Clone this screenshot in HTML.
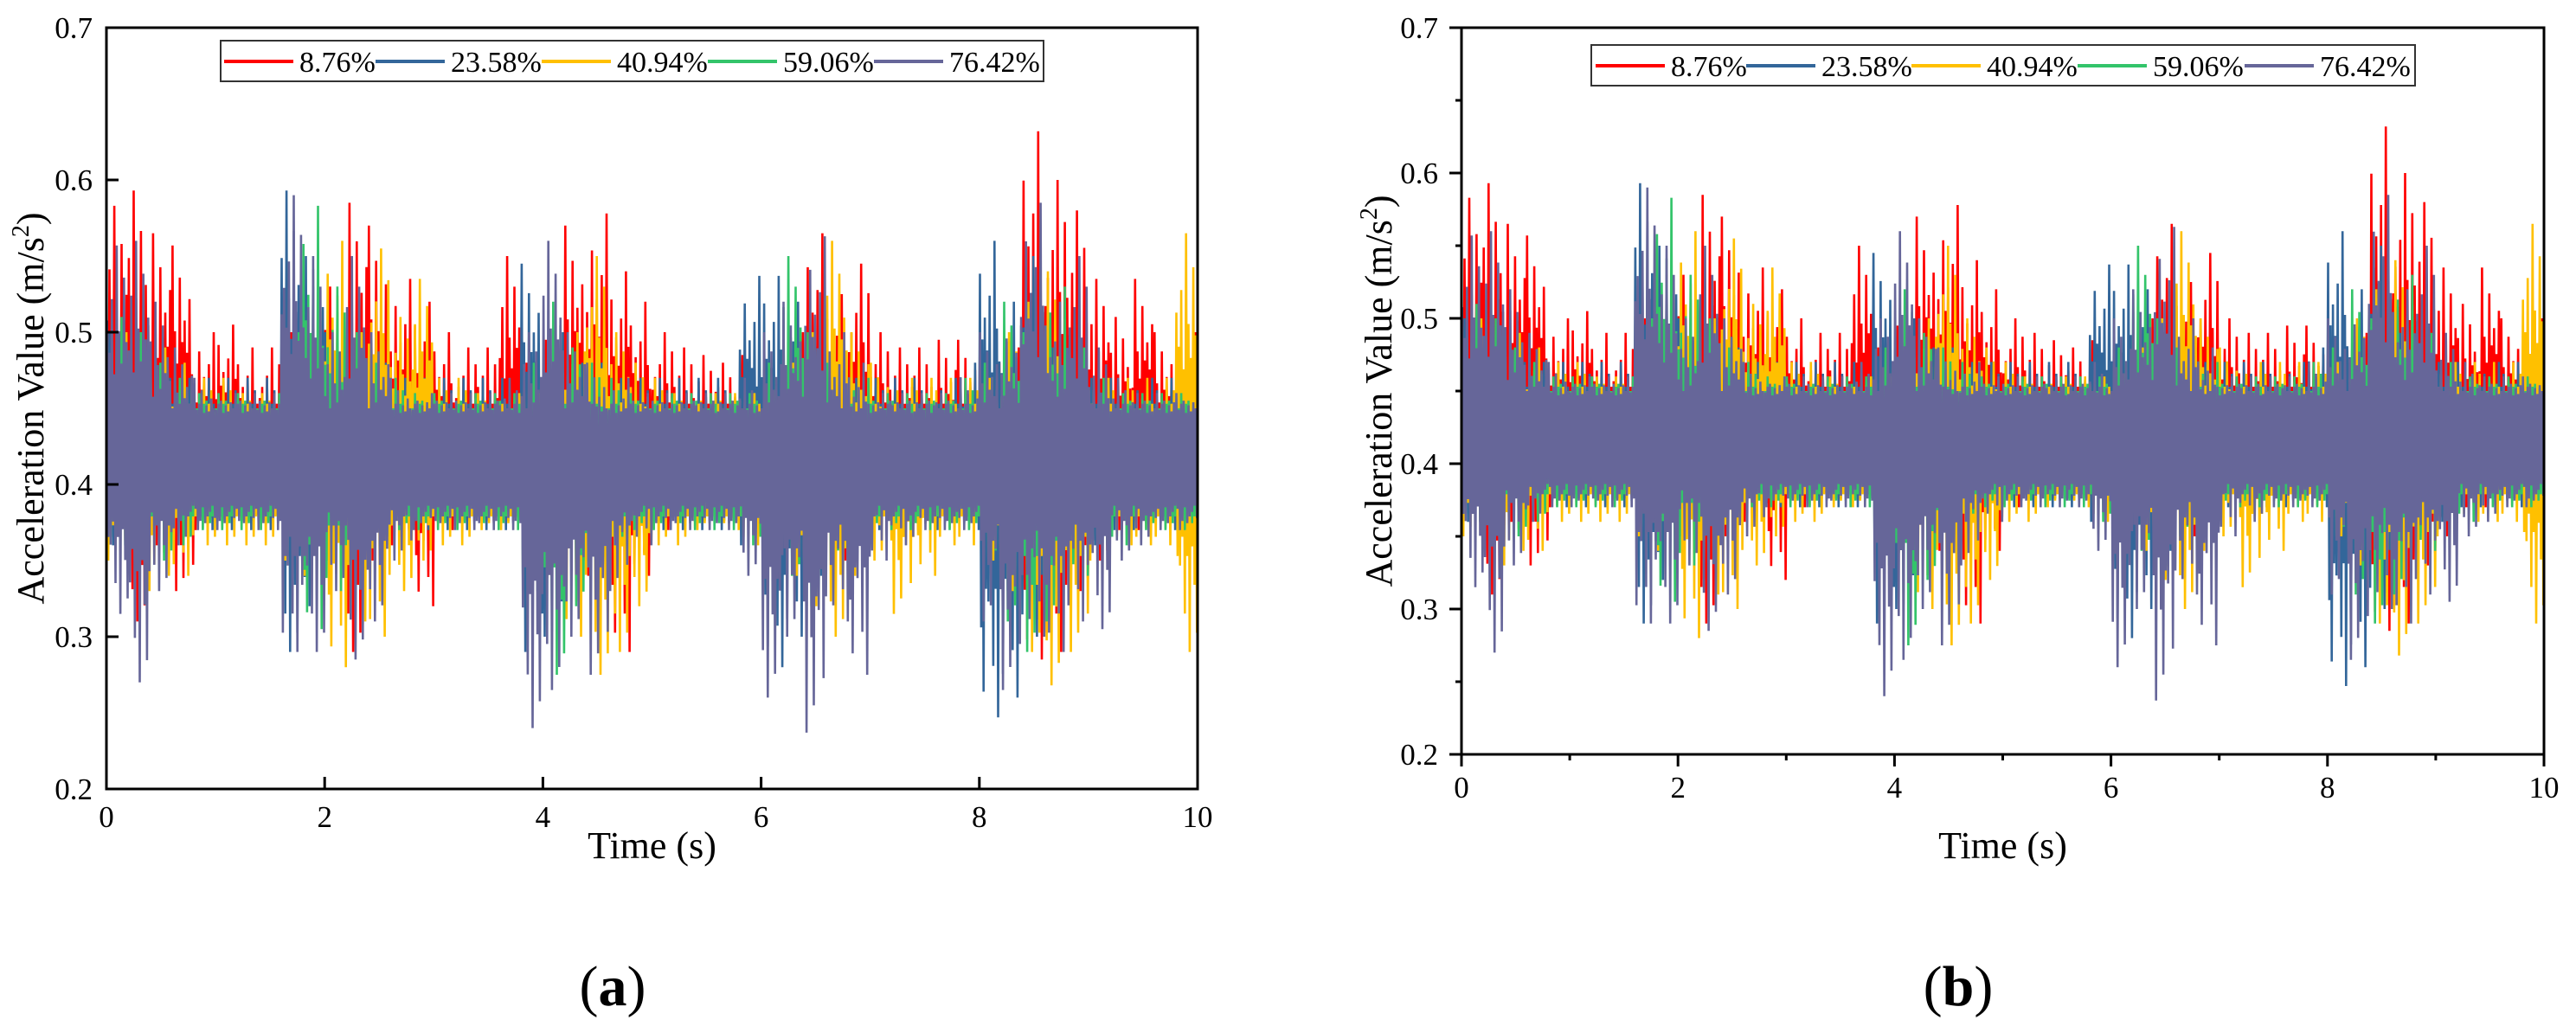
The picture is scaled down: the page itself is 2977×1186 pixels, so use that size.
<!DOCTYPE html>
<html><head><meta charset="utf-8"><style>
body{margin:0;background:#fff;}
svg{display:block;font-family:"Liberation Serif",serif;}
</style></head><body>
<svg id="fig" width="2977" height="1186" viewBox="0 0 2977 1186" xmlns="http://www.w3.org/2000/svg"></svg>
<script>
// ---- data (envelope peaks per 0.2 s window) ----
const seriesNames = ["8.76%","23.58%","40.94%","59.06%","76.42%"];
const seriesColors = ["#ff0000","#33669a","#ffc000","#33c46a","#666699"];
const xTicks = [0,2,4,6,8,10];
const yTicks = [0.2,0.3,0.4,0.5,0.6,0.7];
const xTickLabels = ["0","2","4","6","8","10"];
const yTickLabels = ["0.2","0.3","0.4","0.5","0.6","0.7"];
const centerValue = 0.416;
const redUpper = [0.583,0.593,0.565,0.557,0.50,0.505,0.49,0.49,0.50,0.49,0.53,0.585,0.57,0.535,0.52,0.50,0.49,0.49,0.55,0.48,0.495,0.57,0.578,0.54,0.52,0.50,0.49,0.485,0.48,0.485,0.46,0.50,0.565,0.525,0.545,0.50,0.49,0.49,0.495,0.495,0.48,0.49,0.632,0.60,0.58,0.535,0.51,0.535,0.50,0.50];
const redLower = [0.37,0.31,0.36,0.33,0.37,0.38,0.38,0.38,0.37,0.37,0.36,0.29,0.35,0.36,0.32,0.37,0.38,0.38,0.38,0.37,0.37,0.36,0.34,0.29,0.34,0.37,0.38,0.38,0.38,0.38,0.37,0.36,0.34,0.35,0.37,0.38,0.37,0.38,0.38,0.38,0.37,0.36,0.285,0.29,0.33,0.35,0.37,0.37,0.38,0.37];
const blueUpper = [0.50,0.48,0.47,0.47,0.47,0.47,0.47,0.47,0.593,0.55,0.50,0.48,0.48,0.47,0.47,0.47,0.47,0.47,0.47,0.545,0.50,0.48,0.48,0.47,0.47,0.47,0.47,0.47,0.47,0.537,0.537,0.52,0.48,0.47,0.47,0.47,0.47,0.47,0.47,0.48,0.56,0.52,0.55,0.49,0.48,0.47,0.47,0.47,0.47,0.47];
const blueLower = [0.36,0.36,0.37,0.37,0.37,0.37,0.37,0.37,0.29,0.32,0.35,0.35,0.36,0.37,0.37,0.37,0.37,0.37,0.37,0.29,0.30,0.35,0.36,0.37,0.37,0.37,0.37,0.37,0.37,0.36,0.28,0.30,0.34,0.36,0.37,0.37,0.37,0.37,0.37,0.37,0.247,0.26,0.30,0.34,0.35,0.36,0.37,0.37,0.37,0.37];
const yellowUpper = [0.50,0.48,0.49,0.48,0.47,0.47,0.46,0.46,0.47,0.48,0.56,0.50,0.555,0.51,0.535,0.47,0.47,0.46,0.46,0.46,0.48,0.50,0.55,0.50,0.48,0.47,0.46,0.46,0.46,0.46,0.46,0.48,0.50,0.56,0.50,0.48,0.47,0.47,0.47,0.47,0.47,0.50,0.52,0.54,0.48,0.47,0.47,0.47,0.47,0.565];
const yellowLower = [0.35,0.33,0.34,0.34,0.36,0.36,0.36,0.36,0.35,0.34,0.28,0.31,0.30,0.33,0.35,0.36,0.36,0.37,0.37,0.35,0.33,0.30,0.275,0.29,0.32,0.36,0.36,0.37,0.37,0.36,0.35,0.34,0.32,0.30,0.34,0.35,0.315,0.34,0.36,0.36,0.35,0.33,0.29,0.268,0.29,0.35,0.36,0.36,0.36,0.29];
const greenUpper = [0.51,0.50,0.48,0.47,0.46,0.46,0.46,0.46,0.50,0.583,0.53,0.50,0.48,0.47,0.46,0.46,0.46,0.46,0.46,0.48,0.52,0.49,0.48,0.47,0.46,0.46,0.46,0.46,0.46,0.46,0.48,0.55,0.50,0.48,0.47,0.46,0.46,0.46,0.46,0.47,0.48,0.52,0.50,0.53,0.49,0.47,0.46,0.46,0.46,0.46];
const greenLower = [0.36,0.35,0.35,0.36,0.37,0.37,0.37,0.37,0.35,0.305,0.33,0.35,0.36,0.37,0.37,0.37,0.37,0.37,0.37,0.33,0.275,0.32,0.34,0.36,0.37,0.37,0.37,0.37,0.37,0.36,0.35,0.34,0.32,0.35,0.36,0.37,0.37,0.37,0.37,0.37,0.35,0.31,0.29,0.31,0.34,0.36,0.36,0.37,0.37,0.37];
const purpleUpper = [0.557,0.56,0.52,0.49,0.47,0.46,0.46,0.46,0.59,0.55,0.50,0.55,0.50,0.47,0.46,0.46,0.46,0.46,0.47,0.50,0.56,0.50,0.48,0.47,0.46,0.46,0.46,0.46,0.46,0.47,0.50,0.52,0.563,0.50,0.48,0.46,0.46,0.46,0.46,0.47,0.50,0.51,0.585,0.52,0.55,0.49,0.47,0.46,0.46,0.46];
const purpleLower = [0.315,0.27,0.33,0.36,0.37,0.37,0.37,0.37,0.29,0.29,0.33,0.285,0.31,0.35,0.37,0.37,0.37,0.37,0.37,0.24,0.265,0.30,0.275,0.33,0.36,0.37,0.37,0.37,0.37,0.34,0.26,0.30,0.237,0.31,0.275,0.35,0.36,0.37,0.37,0.37,0.31,0.265,0.30,0.29,0.31,0.305,0.35,0.36,0.37,0.37];
const uppers = [redUpper,blueUpper,yellowUpper,greenUpper,purpleUpper];
const lowers = [redLower,blueLower,yellowLower,greenLower,purpleLower];

const NS="http://www.w3.org/2000/svg";
const svg=document.getElementById('fig');
function mk(tag,attrs,parent){const e=document.createElementNS(NS,tag);for(const k in attrs)e.setAttribute(k,attrs[k]);(parent||svg).appendChild(e);return e;}
const upPat=[0.5,0.75,0.4,1,0.6,0.45,0.85,0.55,0.65];
const dnPat=[0.55,0.4,0.8,0.5,1,0.45,0.65,0.9,0.5];
const coreUp=[0.032,0.038,0.034,0.040,0.033,0.037,0.039,0.031,0.036];
const coreDn=[0.034,0.030,0.038,0.032,0.036,0.040,0.031,0.035,0.037];

function panel(cfg){
  const g=mk('g',{});
  
  
  const L=cfg.L,R=cfg.R,T=cfg.T,B=cfg.B;
  const xs=v=>L+(v-0)/(10-0)*(R-L);
  const ys=v=>B-(v-0.2)/(0.7-0.2)*(B-T);
  const clipId='clip'+cfg.id;
  const defs=mk('defs',{},g);
  const cp=mk('clipPath',{id:clipId},defs);
  mk('rect',{x:L,y:T,width:R-L,height:B-T},cp);
  const sg=mk('g',{'clip-path':'url(#'+clipId+')'},g);
  const K=18, W=uppers[0].length;
  for(let s=0;s<uppers.length;s++){
    const U=uppers[s],Lo=lowers[s];
    let d='';
    for(let i=0;i<W;i++){
      for(let k=0;k<K;k++){
        const t=(i+(k+0.5)/K)*(10/W);
        const j=(Math.floor(k/2)+s*2+i)%9;
        let v;
        if(k%2===0) v=centerValue+Math.max(coreUp[j],(U[i]-centerValue)*upPat[j]);
        else v=centerValue-Math.max(coreDn[j],(centerValue-Lo[i])*dnPat[j]);
        d+=(d?'L':'M')+xs(t).toFixed(1)+','+ys(v).toFixed(1);
      }
    }
    const p=mk('path',{d:d,fill:'none',stroke:seriesColors[s],'stroke-width':2.6,'stroke-linejoin':'miter','stroke-miterlimit':2},sg);
    
    
  }
  const fr=mk('rect',{x:L,y:T,width:R-L,height:B-T,fill:'none',stroke:'#000','stroke-width':3},g);
  
  
  const tk=cfg.inward?1:-1;
  for(let i=0;i<xTicks.length;i++){
    const x=xs(xTicks[i]);
    mk('line',{x1:x,y1:B,x2:x,y2:B-tk*14,stroke:'#000','stroke-width':3},g);
    const t=mk('text',{x:x,y:B+cfg.xLabOff,'font-size':35,'text-anchor':'middle'},g);
    t.textContent=xTickLabels[i];
    
    
    if(!cfg.inward && i<xTicks.length-1){const xm=xs(xTicks[i]+1);mk('line',{x1:xm,y1:B,x2:xm,y2:B+7,stroke:'#000','stroke-width':3},g);}
  }
  for(let i=0;i<yTicks.length;i++){
    const y=ys(yTicks[i]);
    mk('line',{x1:L,y1:y,x2:L+tk*14,y2:y,stroke:'#000','stroke-width':3},g);
    const t=mk('text',{x:cfg.yLabX,y:y+12,'font-size':35,'text-anchor':'end'},g);
    t.textContent=yTickLabels[i];
    
    
    if(!cfg.inward && i<yTicks.length-1){const ym=ys(yTicks[i]+0.05);mk('line',{x1:L,y1:ym,x2:L-7,y2:ym,stroke:'#000','stroke-width':3},g);}
  }
  const xt=mk('text',{x:(L+R)/2,y:992,'font-size':44,'text-anchor':'middle'},g);
  xt.textContent='Time (s)';
  
  
  const yt=mk('text',{x:0,y:0,'font-size':44,'text-anchor':'middle',transform:'translate('+cfg.yTitleX+','+((T+B)/2)+') rotate(-90)'},g);
  yt.innerHTML='Acceleration Value (m/s<tspan font-size="28" dy="-17">2</tspan><tspan dy="17">)</tspan>';
  
  
  const lg=mk('g',{},g);
  
  
  mk('rect',{x:cfg.legL,y:cfg.legT,width:cfg.legR-cfg.legL,height:47,fill:'#fff',stroke:'#333','stroke-width':2},lg);
  const ly=cfg.legT+24;
  for(let s=0;s<seriesNames.length;s++){
    const x0=cfg.legStarts[s];
    const e=mk('g',{},lg);
    
    
    mk('line',{x1:x0,y1:ly,x2:x0+80,y2:ly,stroke:seriesColors[s],'stroke-width':4},e);
    const t=mk('text',{x:x0+87,y:ly+12,'font-size':34},e);
    t.textContent=seriesNames[s];
  }
  const lab=mk('text',{x:cfg.labX,y:1162,'font-size':66,'text-anchor':'middle'},g);
  lab.innerHTML='(<tspan font-weight="bold">'+cfg.id+'</tspan>)';
  
  
}
panel({id:'a',name:'panel-a',L:123,R:1384,T:32,B:912,inward:true,xLabOff:44,yLabX:107,yTitleX:50,legL:255,legR:1206,legT:47,legStarts:[259,434,626,818,1010],labX:708});
panel({id:'b',name:'panel-b',L:1689,R:2940,T:32,B:872,inward:false,xLabOff:50,yLabX:1662,yTitleX:1608,legL:1839,legR:2791,legT:52,legStarts:[1844,2018,2209,2401,2594],labX:2263});
</script>
</body></html>
